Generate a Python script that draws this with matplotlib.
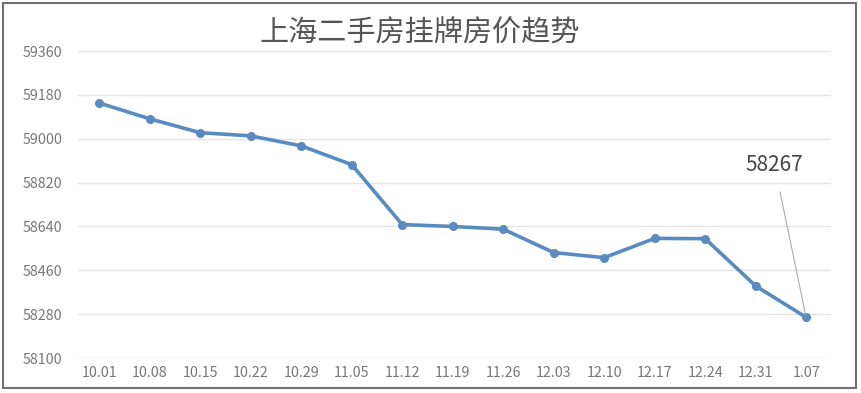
import matplotlib.pyplot as plt
from matplotlib.patches import Rectangle

plt.rcParams['font.family'] = ['Noto Sans CJK SC', 'DejaVu Sans']

dates = ["10.01", "10.08", "10.15", "10.22", "10.29", "11.05", "11.12", "11.19",
         "11.26", "12.03", "12.10", "12.17", "12.24", "12.31", "1.07"]
prices = [59147, 59082, 59025, 59012, 58971, 58894, 58648, 58640,
          58629, 58533, 58512, 58591, 58590, 58396, 58267]
yticks = [58100, 58280, 58460, 58640, 58820, 59000, 59180, 59360]

fig = plt.figure(figsize=(8.61, 3.93), dpi=100)
ax = fig.add_axes([0.0906, 0.089, 0.875, 0.781])

x = list(range(len(dates)))
ax.plot(x, prices, color="#5a8bc0", lw=2.6, marker="o", ms=5.5,
        markerfacecolor="#5a8bc0", markeredgecolor="#5a8bc0", zorder=3)

ax.set_ylim(58100, 59360)
ax.set_xlim(-0.42, 14.5)
ax.set_yticks(yticks)
ax.set_xticks(x)
ax.set_xticklabels(dates)
ax.grid(axis="y", color="#e4e4e4", lw=1)
ax.set_axisbelow(True)
for s in ax.spines.values():
    s.set_visible(False)
ax.tick_params(length=0, colors="#777777", labelsize=10.3)
ax.tick_params(axis="y", pad=11)
ax.tick_params(axis="x", pad=6)

ax.annotate(str(prices[-1]), xy=(x[-1], prices[-1]), xytext=(x[-1] - 0.63, 58894),
            ha="center", va="center", fontsize=15, color="#444444",
            arrowprops=dict(arrowstyle="-", color="#aaaaaa", lw=0.8,
                            shrinkA=10, shrinkB=2))

fig.text(0.487, 0.918, "上海二手房挂牌房价趋势", ha="center", va="center",
         fontsize=21, color="#555555")

fig.patches.append(Rectangle((0.004, 0.012), 0.99, 0.98, transform=fig.transFigure,
                             fill=False, edgecolor="#707070", lw=1.5))

fig.savefig("out.png", dpi=100)
